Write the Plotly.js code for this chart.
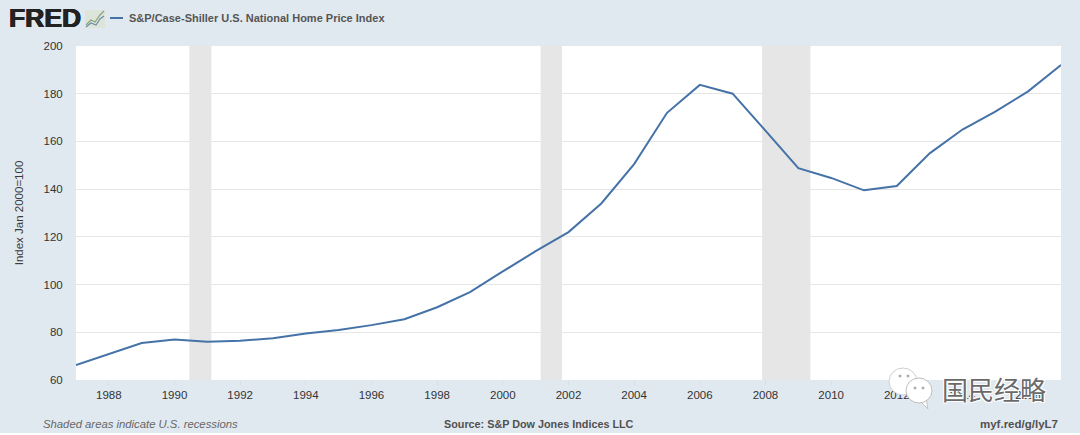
<!DOCTYPE html>
<html><head><meta charset="utf-8">
<script src="https://cdn.plot.ly/plotly-3.0.1.min.js"></script>
<style>html,body{margin:0;padding:0;background:#fff;overflow:hidden}#c{width:1080px;height:433px}</style>
</head><body><div id="c"></div>
<script>
const years = [1987,1988,1989,1990,1991,1992,1993,1994,1995,1996,1997,1998,1999,2000,2001,2002,2003,2004,2005,2006,2007,2008,2009,2010,2011,2012,2013,2014,2015,2016,2017];
const index = [66.3,71,75.5,77,76,76.5,77.5,79.5,81,83,85.5,90.5,96.8,105.5,114,122,134,150.5,172,183.7,180,164.5,148.8,144.7,139.5,141.3,155,165,172.5,181,192];
const recessionStart = ["1990-06-15","2001-02-25","2007-11-25"];
const recessionEnd = ["1991-02-15","2001-10-20","2009-05-15"];
const seriesName = "S&P/Case-Shiller U.S. National Home Price Index";
const yTicks = [60,80,100,120,140,160,180,200];
const xTickYears = [1988,1990,1992,1994,1996,1998,2000,2002,2004,2006,2008,2010,2012,2014,2016];

const sans = "Liberation Sans, Arial, sans-serif";
const ink = "#3a3a3a";
const ML=76, MR=19, MT=46, MB=53, W=1080, H=433;
const px = v => (v-ML)/(W-ML-MR), py = v => 1-(v-MT)/(H-MT-MB);
const shapes = recessionStart.map((s,i)=>({type:"rect",xref:"x",yref:"paper",x0:s,x1:recessionEnd[i],y0:0,y1:1,fillcolor:"#e6e6e6",line:{width:0},layer:"below"}));
function paperShape(o){return Object.assign({xref:"paper",yref:"paper",layer:"above"},o);}
function bubble(x0,y0,x1,y1,fill,edge){return paperShape({type:"circle",x0:px(x0),x1:px(x1),y0:py(y1),y1:py(y0),fillcolor:fill,line:{color:edge||"#d0d0d0",width:1}});}
function pth(pts){return pts.map((p,i)=>(i?"L":"M")+px(p[0]).toFixed(5)+","+py(p[1]).toFixed(5)).join(" ");}
shapes.push(
  paperShape({type:"line",x0:px(110),x1:px(123),y0:py(18),y1:py(18),line:{color:"#4572a7",width:2}}),
  paperShape({type:"rect",x0:px(85),x1:px(105),y0:py(28),y1:py(10),fillcolor:"#dde4da",line:{width:0}}),
  paperShape({type:"path",path:pth([[86,25],[91,20],[95,22],[100,15],[104,11]]),line:{color:"#8aa37a",width:1.2}}),
  paperShape({type:"path",path:pth([[86,27],[91,23],[96,25],[100,19],[104,16]]),line:{color:"#6d8fa8",width:1.2}}),
  bubble(889,368,917,395,"#ffffff"),
  paperShape({type:"path",path:pth([[919,400],[928,409],[926,398]])+" Z",fillcolor:"#ffffff",line:{color:"#c4c4c4",width:1}}),
  bubble(906,378,932,403,"#ffffff","#bdbdbd")
);
[[900,376],[908,376],[915,388],[923,388]].forEach(p=>shapes.push(bubble(p[0]-1,p[1]-1,p[0]+1,p[1]+1,"#a5a5a5","#a5a5a5")));

function note(text,x,y,anchor,size,color,family,shadow){return {text,xref:"paper",yref:"paper",x:px(x),y:py(y),xanchor:anchor,yanchor:"middle",showarrow:false,font:{family:family||sans,size,color:color||ink,shadow:shadow||"none"}};}
const annotations = [
  note("<b>FRED</b>",7,18,"left",26.5,"#222222",sans,"0.6px 0 0 #222222, -0.6px 0 0 #222222, 0 0.4px 0 #222222"),
  note("<b>"+seriesName.replace(/&/g,"&amp;")+"</b>",127,18,"left",11,"#555555"),
  note("<i>Shaded areas indicate U.S. recessions</i>",41,424,"left",11.3,"#666666"),
  note("<b>Source: S&amp;P Dow Jones Indices LLC</b>",539,424,"center",10.8,"#505050"),
  note("<b>myf.red/g/lyL7</b>",1060,424,"right",11.5,"#505050"),
  note("国民经略",940,388,"left",26,"#6a6a6a","Noto Sans CJK SC","1px 1px 0 #ffffff, -1px -1px 0 #ffffff, 1px -1px 0 #ffffff, -1px 1px 0 #ffffff")
];

Plotly.newPlot("c",[{
  x:years.map(y=>y+"-01-01"),y:index,type:"scatter",mode:"lines",name:seriesName,
  line:{color:"#4572a7",width:2},hoverinfo:"x+y"
}],{
  width:W,height:H,showlegend:false,
  paper_bgcolor:"#e1e9f0",plot_bgcolor:"#ffffff",
  margin:{l:ML,r:MR,t:MT,b:MB,pad:0},
  font:{family:sans,color:ink},
  xaxis:{type:"date",range:["1987-01-01","2017-01-01"],tickmode:"array",
    tickvals:xTickYears.map(y=>y+"-01-01"),ticktext:xTickYears.map(String),
    ticks:"outside",ticklen:4,tickwidth:1,tickcolor:"#d5dde5",showgrid:false,zeroline:false,showline:false,
    tickfont:{family:sans,size:11.5,color:"#333333"}},
  yaxis:{range:[60,200],tickmode:"array",tickvals:yTicks,ticktext:yTicks.map(String),ticks:"outside",ticklen:10,tickcolor:"rgba(0,0,0,0)",
    gridcolor:"#e6e6e6",gridwidth:1,zeroline:false,showline:false,
    tickfont:{family:sans,size:11.5,color:"#333333"},
    title:{text:"Index Jan 2000=100",font:{family:sans,size:11.5,color:ink},standoff:17}},
  shapes,annotations
},{displayModeBar:false,staticPlot:true});
</script></body></html>
